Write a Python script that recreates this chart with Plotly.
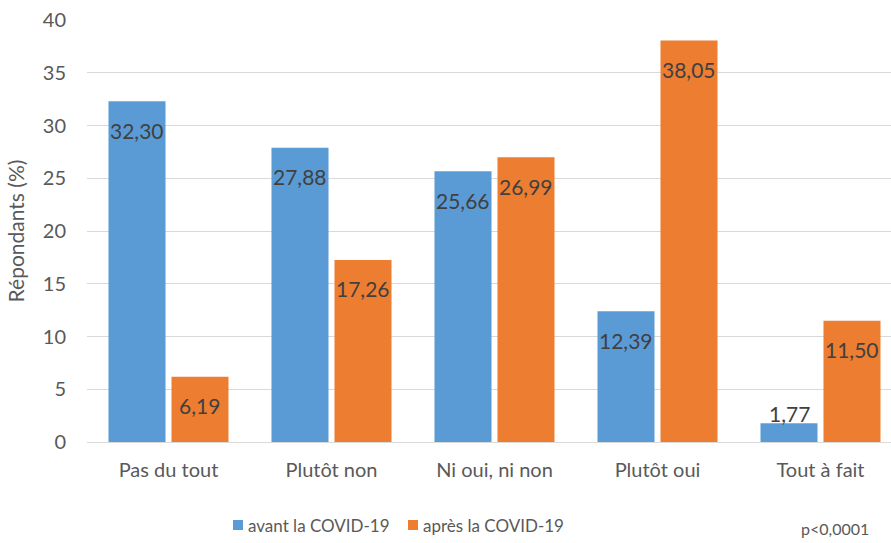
import plotly.graph_objects as go

categories = ["Pas du tout", "Plutôt non", "Ni oui, ni non", "Plutôt oui", "Tout à fait"]
avant = [32.30, 27.88, 25.66, 12.39, 1.77]
apres = [6.19, 17.26, 26.99, 38.05, 11.50]
series_names = ["avant la COVID-19", "après la COVID-19"]
y_ticks = [0, 5, 10, 15, 20, 25, 30, 35, 40]

BLUE = "#5B9BD5"
ORANGE = "#ED7D31"
FONT = "Lato, 'Open Sans', sans-serif"

# plot area in pixels (used to place legend items in paper coordinates)
L, R, T, B = 87, 891, 20, 442
CAT_W = 163  # pixel width of one category slot; the last slot runs past the right edge


def px_x(p):
    return (p - L) / (R - L)


def px_y(p):
    return (B - p) / (B - T)


def fmt(v):
    return f"{v:.2f}".replace(".", ",")


fig = go.Figure()
fig.add_trace(go.Bar(x=categories, y=avant, name=series_names[0],
                     marker=dict(color=BLUE, line=dict(width=0))))
fig.add_trace(go.Bar(x=categories, y=apres, name=series_names[1],
                     marker=dict(color=ORANGE, line=dict(width=0))))

BARGAP, GROUPGAP = 0.227, 0.095
slot = CAT_W * (1 - BARGAP) / 2

# value labels near the top inside each bar; tiny bars get the label just above
annotations = []
for vals, dx in ((avant, -slot / 2), (apres, slot / 2)):
    for cat, v in zip(categories, vals):
        if v < 4:
            annotations.append(dict(x=cat, y=v, xref="x", yref="y", text=fmt(v),
                                    showarrow=False, xshift=dx, yanchor="bottom",
                                    yshift=-5, font=dict(size=21, color="#404040", family=FONT)))
        else:
            annotations.append(dict(x=cat, y=v, xref="x", yref="y", text=fmt(v),
                                    showarrow=False, xshift=dx, yanchor="middle",
                                    yshift=-29, font=dict(size=21, color="#404040", family=FONT)))

# legend drawn as coloured squares with text beside them
shapes = []
for name, color, x0 in ((series_names[0], BLUE, 233), (series_names[1], ORANGE, 408)):
    shapes.append(dict(type="rect", xref="paper", yref="paper",
                       x0=px_x(x0), x1=px_x(x0 + 10), y0=px_y(530), y1=px_y(520),
                       fillcolor=color, line=dict(width=0)))
    annotations.append(dict(x=px_x(x0 + 13), y=px_y(525), xref="paper", yref="paper",
                            xanchor="left", yanchor="middle", text=name, showarrow=False,
                            font=dict(size=17, color="#595959", family=FONT)))

annotations.append(dict(x=px_x(871), y=px_y(528), xref="paper", yref="paper",
                        xanchor="right", yanchor="middle", text="p<0,0001", showarrow=False,
                        font=dict(size=16, color="#595959", family=FONT)))

x_hi = -0.5 + (R - L) / CAT_W

fig.update_layout(
    width=891, height=543,
    margin=dict(l=L, r=891 - R, t=T, b=543 - B),
    paper_bgcolor="white", plot_bgcolor="white",
    barmode="group", bargap=BARGAP, bargroupgap=GROUPGAP,
    font=dict(family=FONT, color="#595959"),
    showlegend=False,
    annotations=annotations,
    shapes=shapes,
    xaxis=dict(range=[-0.5, x_hi], tickfont=dict(size=20, color="#595959"), showline=True,
               linecolor="#D9D9D9", linewidth=1, ticks="", ticklabelstandoff=10),
    yaxis=dict(range=[0, 40], tickvals=y_ticks, showgrid=True, gridcolor="#D9D9D9",
               gridwidth=1, zeroline=False, tickfont=dict(size=20, color="#595959"),
               ticks="", ticklabelstandoff=20,
               title=dict(text="Répondants (%)", font=dict(size=21, color="#595959"),
                          standoff=12)),
)

fig.write_html("out.html")
